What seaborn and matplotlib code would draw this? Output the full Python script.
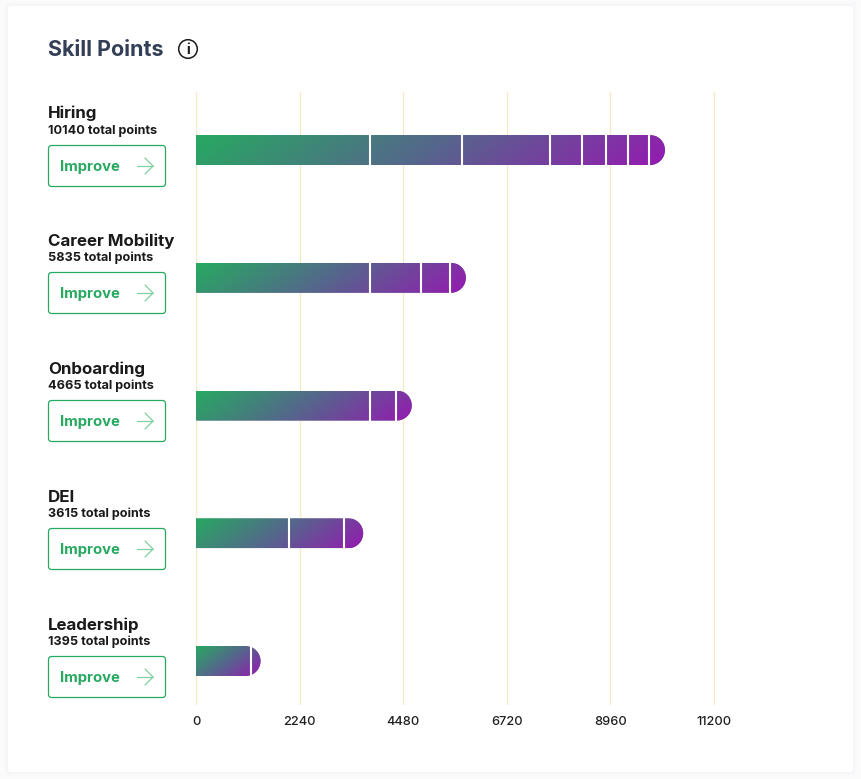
import numpy as np
import pandas as pd
import seaborn as sns
import matplotlib.pyplot as plt
from matplotlib.colors import LinearSegmentedColormap
from matplotlib.lines import Line2D
from matplotlib.patches import Circle, FancyBboxPatch, PathPatch
from matplotlib.path import Path
from matplotlib.transforms import Affine2D

# 数据
skills = ["Hiring", "Career Mobility", "Onboarding", "DEI", "Leadership"]
totals = [10140, 5835, 4665, 3615, 1395]
# 每段的分隔位置
hiring_cuts = [3760, 5750, 7650, 8345, 8865, 9340, 9795]
career_cuts = [3760, 4865, 5490]
onboarding_cuts = [3760, 4325]
dei_cuts = [2010, 3200]
leadership_cuts = [1190]
all_cuts = [hiring_cuts, career_cuts, onboarding_cuts, dei_cuts, leadership_cuts]
x_ticks = [0, 2240, 4480, 6720, 8960, 11200]

W, H = 861, 779
sns.set_theme(style="white")
plt.rcParams["font.family"] = ["Inter", "DejaVu Sans"]

fig = plt.figure(figsize=(W / 100, H / 100), dpi=100, facecolor="#fbfbfc")
# 像素坐标，原点在左上
px = Affine2D().scale(1 / W, -1 / H).translate(0, 1) + fig.transFigure

# 卡片，外面一圈浅阴影
for grow, shade in [(4, "#f9f9fb"), (2, "#f6f6f9"), (0, "white")]:
    card = FancyBboxPatch((8 - grow, 6 - grow), 845 + 2 * grow, 766 + 2 * grow,
                          boxstyle="round,pad=0,rounding_size=3",
                          fc=shade, ec="none", transform=px, zorder=-1)
    fig.add_artist(card)

# 坐标轴，和图上的刻度对齐
ax = fig.add_axes([196 / W, 1 - 705 / H, (835 - 196) / W, (705 - 92) / H])
ax.patch.set_alpha(0)
df = pd.DataFrame({"skill": skills, "total": totals})
sns.barplot(data=df, x="total", y="skill", orient="h", width=30 / 127.75, color="#5f4f9a", ax=ax, zorder=3)

x_per_px = 11200 / 518
y_per_px = 1 / 127.75
ax.set_xlim(0, (835 - 196) * x_per_px)
ax.set_ylim(4 + 44 * y_per_px, -58 * y_per_px)
sns.despine(ax=ax, left=True, bottom=True)
ax.set_xlabel("")
ax.set_ylabel("")
ax.set_yticks([])
ax.set_xticks(x_ticks)
ax.set_xticklabels([str(t) for t in x_ticks], fontsize=9.2, fontweight="medium", color="#1f1f1f")
ax.tick_params(axis="x", length=0, pad=8)
ax.grid(axis="x", color="#f6ebc4", lw=1)
ax.set_axisbelow(True)

cmap = LinearSegmentedColormap.from_list("skill", ["#27a961", "#55668c", "#941bb0"])

xlim, ylim = ax.get_xlim(), ax.get_ylim()
r_x, r_y = 15 * x_per_px, 15 * y_per_px
k = 0.5523
for bar, cuts in zip(ax.patches, all_cuts):
    x0, w = bar.get_x(), bar.get_width()
    y0, h = bar.get_y(), bar.get_height()
    x1, y1 = x0 + w, y0 + h
    # 右侧圆角
    verts = [(x0, y0), (x1 - r_x, y0),
             (x1 - r_x + k * r_x, y0), (x1, y0 + r_y - k * r_y), (x1, y0 + r_y),
             (x1, y1 - r_y + k * r_y), (x1 - r_x + k * r_x, y1), (x1 - r_x, y1),
             (x0, y1), (x0, y0)]
    codes = [Path.MOVETO, Path.LINETO, Path.CURVE4, Path.CURVE4, Path.CURVE4,
             Path.CURVE4, Path.CURVE4, Path.CURVE4, Path.LINETO, Path.CLOSEPOLY]
    shape = PathPatch(Path(verts, codes), transform=ax.transData, fc="none", ec="none")
    ax.add_patch(shape)
    bar.set_clip_path(shape)
    # 斜向渐变，像素方向上角度固定
    w_px, h_px = w / x_per_px, h / y_per_px
    xx, yy = np.meshgrid(np.linspace(0, w_px, 400), np.linspace(0, h_px, 30))
    grad = (xx + 1.3 * yy) / (w_px + 1.3 * h_px)
    img = ax.imshow(grad, extent=(x0, x1, y1, y0), cmap=cmap, vmin=0, vmax=1,
                    aspect="auto", zorder=4, interpolation="bilinear")
    img.set_clip_path(shape)
    ax.vlines(cuts, y0, y1, color="white", lw=1.5, zorder=5)
ax.set_xlim(xlim)
ax.set_ylim(ylim)

# 标题和图标
fig.text(48 / W, 1 - 49.5 / H, "Skill Points", fontsize=15.5, fontweight="bold", color="#333f57", va="center")
fig.add_artist(Circle((188, 49), 9.3, fc="white", ec="#1a1a1a", lw=1.1, transform=px))
fig.text(188 / W, 1 - 49.5 / H, "i", fontsize=10, fontweight="bold", color="#1a1a1a", ha="center", va="center")

# 左边的文字和按钮
label_y = [113, 241, 369, 497, 625]
sub_y = [130.5, 257.5, 385.5, 513.5, 641.5]
btn_y = [145, 272, 400, 528, 656]
for name, total, ly, sy, by in zip(skills, totals, label_y, sub_y, btn_y):
    fig.text(48 / W, 1 - ly / H, name, fontsize=12.2, fontweight="bold", color="#1a1a1a", va="center")
    fig.text(48 / W, 1 - sy / H, f"{total} total points", fontsize=9.1, fontweight="bold", color="#1a1a1a", va="center")
    fig.add_artist(FancyBboxPatch((48.5, by + 0.5), 117, 41, boxstyle="round,pad=0,rounding_size=3",
                                  fc="white", ec="#27a961", lw=0.9, transform=px))
    fig.text(60 / W, 1 - (by + 22) / H, "Improve", fontsize=10.7, fontweight="bold", color="#27a961", va="center")
    ay = by + 21
    for xs, ys in [((137, 153), (ay, ay)), ((145, 153, 145), (ay - 8, ay, ay + 8))]:
        fig.add_artist(Line2D(xs, ys, color="#7fd0a3", lw=0.9, transform=px))

fig.savefig("out.png", dpi=100, facecolor=fig.get_facecolor())
